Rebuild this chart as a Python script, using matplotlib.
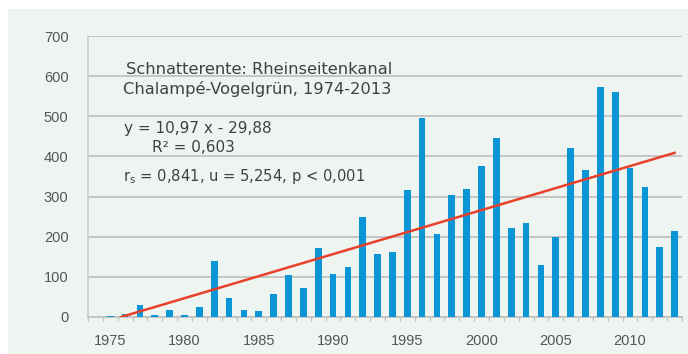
import numpy as np
import matplotlib
matplotlib.use("Agg")
import matplotlib.pyplot as plt
from matplotlib.patches import Rectangle

plt.rcParams['font.family'] = ['Liberation Sans', 'DejaVu Sans']

years = list(range(1974, 2014))
counts = [0, 2, 8, 30, 4, 18, 4, 25, 140, 48, 17, 14, 57, 105, 72, 173,
          106, 125, 250, 158, 163, 316, 495, 207, 305, 318, 375, 447, 222, 235,
          130, 200, 422, 365, 573, 560, 370, 324, 175, 213]
tick_years = [1975, 1980, 1985, 1990, 1995, 2000, 2005, 2010]
y_ticks = [0, 100, 200, 300, 400, 500, 600, 700]

# linear trend over the running index (1974 = 1)
slope, intercept = 10.97, -29.88

W, H = 688, 354
fig = plt.figure(figsize=(W / 100, H / 100), dpi=100)
fig.patch.set_facecolor('white')

panel = '#eef5f1'
fig.patches.append(Rectangle((8 / W, 0), 1 - 8 / W, 1 - 9 / H,
                             transform=fig.transFigure, facecolor=panel,
                             edgecolor='none', zorder=-5))

ax = fig.add_axes([88 / W, 1 - 317 / H, (682 - 88) / W, (317 - 36) / H])
ax.set_facecolor(panel)

idx = np.arange(1, len(years) + 1)
ax.bar(idx, counts, width=0.45, color='#0a96d6', zorder=3)

# trend line, drawn only where it is non-negative
x0 = -intercept / slope
xs = np.array([x0, idx[-1]])
ax.plot(xs, slope * xs + intercept, color='#e8402a', lw=1.8, zorder=4)

ax.set_xlim(0.5, len(years) + 0.5)
ax.set_ylim(0, 700)
ax.set_yticks(y_ticks)
ax.set_yticklabels([str(v) for v in y_ticks])
ax.set_xticks([t - 1974 + 1 for t in tick_years])
ax.set_xticklabels([str(t) for t in tick_years])
ax.set_xticks(np.arange(0.5, len(years) + 1), minor=True)

grid_c = '#c2c2c2'
ax.grid(axis='y', color=grid_c, lw=1.3, zorder=1)
for s in ['top', 'right']:
    ax.spines[s].set_visible(False)
ax.spines['left'].set_color('#cccccc')
ax.spines['left'].set_linewidth(1.2)
ax.spines['bottom'].set_color(grid_c)
ax.spines['bottom'].set_linewidth(1.3)

ax.tick_params(axis='y', length=0, pad=14, labelsize=10.5, labelcolor='#555555')
ax.tick_params(axis='x', which='major', length=0, pad=12, labelsize=10.5,
               labelcolor='#555555')
ax.tick_params(axis='x', which='minor', length=3, color=grid_c, width=1)


def put(px, py, s, size=11):
    fig.text(px / W, 1 - py / H, s, fontsize=size, color='#404040',
             va='center', ha='left', family=['DejaVu Sans'])


put(126, 69, 'Schnatterente: Rheinseitenkanal', 11.7)
put(123, 89, 'Chalampé-Vogelgrün, 1974-2013', 11.7)
put(124, 128, 'y = 10,97 x - 29,88')
put(152, 147, 'R² = 0,603')
put(123, 177, r'r$_\mathregular{s}$ = 0,841, u = 5,254, p < 0,001', 10.6)

fig.savefig('out.png', dpi=100, facecolor=fig.get_facecolor())
